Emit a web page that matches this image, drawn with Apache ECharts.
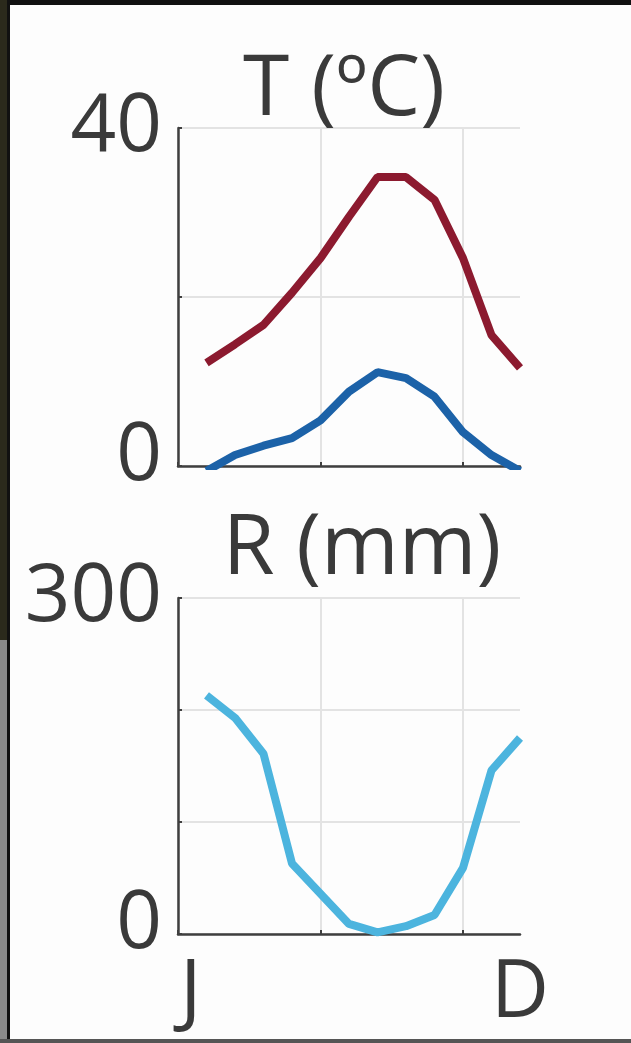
<!DOCTYPE html>
<html>
<head>
<meta charset="utf-8">
<script src="https://cdn.jsdelivr.net/npm/echarts@6/dist/echarts.min.js"></script>
<style>
  html, body { margin: 0; padding: 0; background: #fdfdfd; }
  #container { width: 631px; height: 1043px; }
</style>
</head>
<body>
<div id="container"></div>
<script>
var dom = document.getElementById("container");
var myChart = echarts.init(dom);

// month positions on the x axis (1 = Jan ... 12 = Dec)
var months = [1, 2, 3, 4, 5, 6, 7, 8, 9, 10, 11, 12];
// temperature (degC)
var tMax = [12.2, 14.4, 16.7, 20.5, 24.6, 29.5, 34.2, 34.2, 31.5, 24.6, 15.5, 11.6];
var tMin = [-0.6, 1.3, 2.4, 3.3, 5.4, 8.8, 11.1, 10.4, 8.2, 4.0, 1.3, -0.6];
// rainfall (mm)
var rain = [213, 193, 161, 63, 36, 9, 1.5, 7, 17, 59, 146, 175];

// tick labels
var tTicks = ['0', '40'];
var rTicks = ['0', '300'];
var xTickValues = [0.45, 12];
var xTickText = ['J', 'D'];

function pairs(vals) {
    return vals.map(function (v, i) { return [months[i], v]; });
}

var textColor = '#3a3a3a';
var fontFamily = '"Open Sans", sans-serif';
var gridColor = '#e3e3e3';
var axisColor = '#3f3f3f';

function xAxisFor(gridIndex, withLabels) {
    return {
        type: 'value',
        gridIndex: gridIndex,
        min: 0,
        max: 12,
        interval: 5,
        axisLine: { show: true, onZero: false, lineStyle: { color: axisColor, width: 2.5 } },
        axisTick: { show: true, inside: true, length: 4, customValues: [0, 5, 10],
            lineStyle: { color: axisColor, width: 2 } },
        splitLine: { show: true, lineStyle: { color: [gridColor, gridColor, gridColor, 'transparent'], width: 2 } },
        axisLabel: withLabels ? {
            show: true,
            customValues: xTickValues,
            formatter: function (v) {
                var i = xTickValues.indexOf(v);
                return i >= 0 ? xTickText[i] : '';
            },
            color: textColor,
            fontSize: 80,
            fontFamily: fontFamily,
            margin: 20
        } : { show: false }
    };
}

function yAxisFor(gridIndex, max, interval, labels) {
    return {
        type: 'value',
        gridIndex: gridIndex,
        min: 0,
        max: max,
        interval: interval,
        axisLine: { show: true, lineStyle: { color: axisColor, width: 2.5 } },
        axisTick: { show: true, inside: true, length: 4, lineStyle: { color: axisColor, width: 2 } },
        splitLine: { show: true, lineStyle: { color: gridColor, width: 2 } },
        axisLabel: {
            color: textColor,
            fontSize: 80,
            fontFamily: fontFamily,
            margin: 16,
            formatter: function (v) {
                if (v === 0) return '{low|' + labels[0] + '}';
                if (v === max) return labels[1];
                return '';
            },
            rich: {
                low: { fontSize: 80, fontFamily: fontFamily, color: textColor, padding: [0, 0, 18, 0] }
            }
        }
    };
}

var option = {
    backgroundColor: '#fdfdfd',
    animation: false,
    title: [
        { text: 'T (ºC)', left: 339, top: 44, textAlign: 'center',
          textStyle: { color: textColor, fontSize: 84, fontWeight: 'normal', fontFamily: fontFamily } },
        { text: 'R (mm)', left: 357, top: 503, textAlign: 'center',
          textStyle: { color: textColor, fontSize: 84, fontWeight: 'normal', fontFamily: fontFamily } }
    ],
    grid: [
        { left: 178, top: 128, width: 342, height: 338 },
        { left: 178, top: 598, width: 342, height: 336 }
    ],
    xAxis: [xAxisFor(0, false), xAxisFor(1, true)],
    yAxis: [yAxisFor(0, 40, 20, tTicks), yAxisFor(1, 300, 100, rTicks)],
    series: [
        { name: 'Tmax', type: 'line', xAxisIndex: 0, yAxisIndex: 0, data: pairs(tMax),
          showSymbol: false, lineStyle: { color: '#8c1a2f', width: 8 } },
        { name: 'Tmin', type: 'line', xAxisIndex: 0, yAxisIndex: 0, data: pairs(tMin),
          showSymbol: false, lineStyle: { color: '#1c62a8', width: 8 } },
        { name: 'Rain', type: 'line', xAxisIndex: 1, yAxisIndex: 1, data: pairs(rain),
          showSymbol: false, lineStyle: { color: '#4cb4de', width: 8 } }
    ],
    graphic: [
        { type: 'rect', left: 0, top: 0, shape: { width: 631, height: 5 }, style: { fill: '#111' } },
        { type: 'rect', left: 0, top: 0, shape: { width: 10, height: 640 }, style: { fill: '#2b2a1c' } },
        { type: 'rect', left: 0, top: 640, shape: { width: 10, height: 403 }, style: { fill: '#8a8a8a' } },
        { type: 'rect', left: 7, top: 0, shape: { width: 3, height: 1043 }, style: { fill: '#111' } },
        { type: 'rect', left: 0, top: 1039, shape: { width: 631, height: 4 }, style: { fill: '#555' } }
    ]
};

myChart.setOption(option);
</script>
</body>
</html>
